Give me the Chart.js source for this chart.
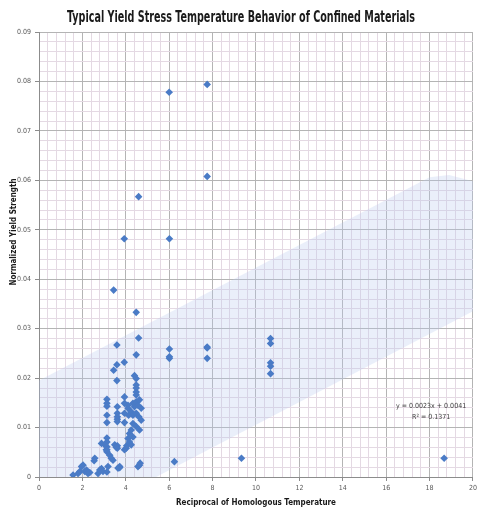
<!DOCTYPE html>
<html>
<head>
<meta charset="utf-8">
<script src="https://cdn.jsdelivr.net/npm/chart.js@4.4.1/dist/chart.umd.min.js"></script>
<style>
  html, body { margin: 0; padding: 0; background: #ffffff; }
  canvas { display: block; }
</style>
</head>
<body>
<canvas id="yield-chart" width="480" height="515"></canvas>
<script>
// measured points (reciprocal homologous temperature vs normalized yield strength)
const xValues = [
  6.0, 7.75, 7.75, 4.59, 3.93, 6.01, 3.44, 4.48, 4.59, 3.59,
  4.48, 6.01, 6.01, 6.01, 7.75, 7.75, 7.75, 3.93, 3.59, 3.44,
  3.59, 4.48, 4.48, 4.48, 4.48, 4.48, 4.40, 10.67, 10.67, 10.67,
  10.67, 10.67, 6.24, 9.33, 18.67,
  3.13, 3.13, 3.13, 3.13, 3.13, 3.13, 3.13, 3.13, 3.13, 3.13,
  3.61, 3.61, 3.61, 3.61, 3.61, 3.61, 3.61,
  3.94, 3.94, 3.94, 3.94, 3.94,
  4.02, 4.04, 4.10, 4.13, 4.10, 4.10,
  4.17, 4.17, 4.25, 4.25, 4.25,
  4.33, 4.33, 4.33, 4.33, 4.40,
  4.48, 4.48, 4.48, 4.56, 4.63, 4.63, 4.71, 4.71, 4.60,
  2.88, 3.03, 3.10, 3.26, 3.33, 3.41, 3.49, 3.56, 3.18, 3.72, 3.72, 3.64,
  1.57, 1.80, 1.88, 1.96, 2.03, 2.11, 2.19, 2.26, 2.34, 2.54, 2.57,
  2.72, 2.80, 2.88, 2.95, 3.13,
  4.56, 4.63, 4.66
];
const yValues = [
  0.0778, 0.0794, 0.0608, 0.0567, 0.0482, 0.0482, 0.0378, 0.0333, 0.0281, 0.0267,
  0.0247, 0.0259, 0.0243, 0.0240, 0.0263, 0.0261, 0.0240, 0.0232, 0.0227, 0.0216,
  0.0195, 0.0199, 0.0186, 0.0180, 0.0172, 0.0166, 0.0205, 0.0280, 0.0270, 0.0231,
  0.0224, 0.0209, 0.0031, 0.0038, 0.0038,
  0.0157, 0.0149, 0.0143, 0.0125, 0.0110, 0.0079, 0.0071, 0.0061, 0.0055, 0.0051,
  0.0142, 0.0129, 0.0122, 0.0117, 0.0112, 0.0063, 0.0058,
  0.0162, 0.0149, 0.0129, 0.0110, 0.0055,
  0.0058, 0.0063, 0.0078, 0.0125, 0.0145, 0.0139,
  0.0088, 0.0071, 0.0132, 0.0095, 0.0065,
  0.0149, 0.0125, 0.0108, 0.0081, 0.0142,
  0.0152, 0.0129, 0.0102, 0.0145, 0.0156, 0.0095, 0.0139, 0.0115, 0.0122,
  0.0068, 0.0065, 0.0055, 0.0044, 0.0038, 0.0034, 0.0065, 0.0060, 0.0021, 0.0021, 0.0019, 0.0018,
  0.0004, 0.0007, 0.0011, 0.0021, 0.0024, 0.0011, 0.0014, 0.0007, 0.0009, 0.0033, 0.0038,
  0.0007, 0.0014, 0.0017, 0.0011, 0.0010,
  0.0021, 0.0024, 0.0028
];

// shaded band around the trend
const bandUpperX = [0, 18, 18.9, 20];
const bandUpperY = [0.0195, 0.0606, 0.0611, 0.0598];
const bandLowerX = [0, 5.4, 20];
const bandLowerY = [0, 0, 0.0335];

// axis labels
const xMajorTicks = [0, 2, 4, 6, 8, 10, 12, 14, 16, 18, 20];
const yMajorTicks = [0, 0.01, 0.02, 0.03, 0.04, 0.05, 0.06, 0.07, 0.08, 0.09];
const yTickLabels = ["0", "0.01", "0.02", "0.03", "0.04", "0.05", "0.06", "0.07", "0.08", "0.09"];
const xMinorStep = 0.4;
const yMinorStep = 0.002;

const chartTitle = "Typical Yield Stress Temperature Behavior of Confined Materials";
const trendText = ["y = 0.0023x + 0.0041", "R\u00b2 = 0.1371"];

(function () {
  const ctx = document.getElementById("yield-chart");
  const narrow = '"Liberation Sans Narrow", "DejaVu Sans Condensed", sans-serif';

  const points = xValues.map((x, i) => ({ x: x, y: yValues[i] }));
  const upper = bandUpperX.map((x, i) => ({ x: x, y: bandUpperY[i] }));
  const lower = bandLowerX.map((x, i) => ({ x: x, y: bandLowerY[i] }));

  function isMajor(value, list) {
    return list.some((m) => Math.abs(m - value) < 1e-9);
  }

  // grid every minor step, labels only on the majors
  function gridTicks(max, step) {
    const ticks = [];
    const n = Math.round(max / step);
    for (let i = 0; i <= n; i++) ticks.push({ value: +(i * step).toFixed(6) });
    return ticks;
  }

  // title squeezed like the original Calibri, plus the trend text and y title
  const textPlugin = {
    id: "textPlugin",
    afterDraw(chart) {
      const c = chart.ctx;
      const { x, y } = chart.scales;
      c.save();
      c.fillStyle = "#1a1a1a";
      c.font = "bold 15px " + narrow;
      c.textAlign = "center";
      c.textBaseline = "alphabetic";
      const w = c.measureText(chartTitle).width;
      const sx = Math.min(1, 348 / w);
      c.save();
      c.translate(241, 22);
      c.scale(sx, 1);
      c.fillText(chartTitle, 0, 0);
      c.restore();

      c.fillStyle = "#404040";
      c.font = "7px " + narrow;
      c.textBaseline = "middle";
      c.fillText(trendText[0], x.getPixelForValue(18.07), y.getPixelForValue(0.01434));
      c.fillText(trendText[1], x.getPixelForValue(18.07), y.getPixelForValue(0.01212));

      c.fillStyle = "#1a1a1a";
      c.font = "bold 8px " + narrow;
      c.translate(14, 232);
      c.rotate(-Math.PI / 2);
      c.fillText("Normalized Yield Strength", 0, 0);
      c.restore();
    },
  };

  new Chart(ctx, {
    type: "scatter",
    data: {
      datasets: [
        {
          data: points,
          pointStyle: "rectRot",
          pointRadius: 3.8,
          backgroundColor: "#4a7bc6",
          borderColor: "#4a7bc6",
          borderWidth: 0,
        },
        {
          data: upper,
          showLine: true,
          pointRadius: 0,
          borderWidth: 0,
          borderColor: "rgba(0,0,0,0)",
          backgroundColor: "rgba(185,203,240,0.3)",
          fill: "+1",
        },
        {
          data: lower,
          showLine: true,
          pointRadius: 0,
          borderWidth: 0,
          borderColor: "rgba(0,0,0,0)",
          fill: false,
        },
      ],
    },
    options: {
      responsive: false,
      animation: false,
      layout: { padding: { left: 0, right: 5, top: 32, bottom: 0 } },
      plugins: {
        legend: { display: false },
        tooltip: { enabled: false },
        title: { display: false },
      },
      scales: {
        x: {
          type: "linear",
          min: 0,
          max: 20,
          afterBuildTicks: (scale) => { scale.ticks = gridTicks(20, xMinorStep); },
          afterFit: (scale) => { scale.height = 38; },
          ticks: {
            autoSkip: false,
            maxRotation: 0,
            padding: 3,
            color: "#595959",
            font: { family: narrow, size: 7 },
            callback: (value) => (isMajor(value, xMajorTicks) ? String(Math.round(value)) : ""),
          },
          grid: {
            color: (c) => (isMajor(c.tick.value, xMajorTicks) ? "#b4b4b4" : "#e4d9e3"),
            tickColor: (c) => (isMajor(c.tick.value, xMajorTicks) ? "#8c8c8c" : "rgba(0,0,0,0)"),
            tickLength: 4,
          },
          border: { color: "#8c8c8c" },
          title: {
            display: true,
            text: "Reciprocal of Homologous Temperature",
            color: "#1a1a1a",
            font: { family: narrow, size: 8, weight: "bold" },
            padding: { top: 0, bottom: 7 },
          },
        },
        y: {
          type: "linear",
          min: 0,
          max: 0.09,
          afterBuildTicks: (scale) => { scale.ticks = gridTicks(0.09, yMinorStep); },
          afterFit: (scale) => { scale.width = 39; },
          ticks: {
            autoSkip: false,
            padding: 4,
            color: "#595959",
            font: { family: narrow, size: 7 },
            callback: (value) => {
              const i = yMajorTicks.findIndex((m) => Math.abs(m - value) < 1e-9);
              return i >= 0 ? yTickLabels[i] : "";
            },
          },
          grid: {
            color: (c) => (isMajor(c.tick.value, yMajorTicks) ? "#b4b4b4" : "#e4d9e3"),
            tickColor: (c) => (isMajor(c.tick.value, yMajorTicks) ? "#8c8c8c" : "rgba(0,0,0,0)"),
            tickLength: 4,
          },
          border: { color: "#8c8c8c" },
        },
      },
    },
    plugins: [textPlugin],
  });
})();
</script>
</body>
</html>
